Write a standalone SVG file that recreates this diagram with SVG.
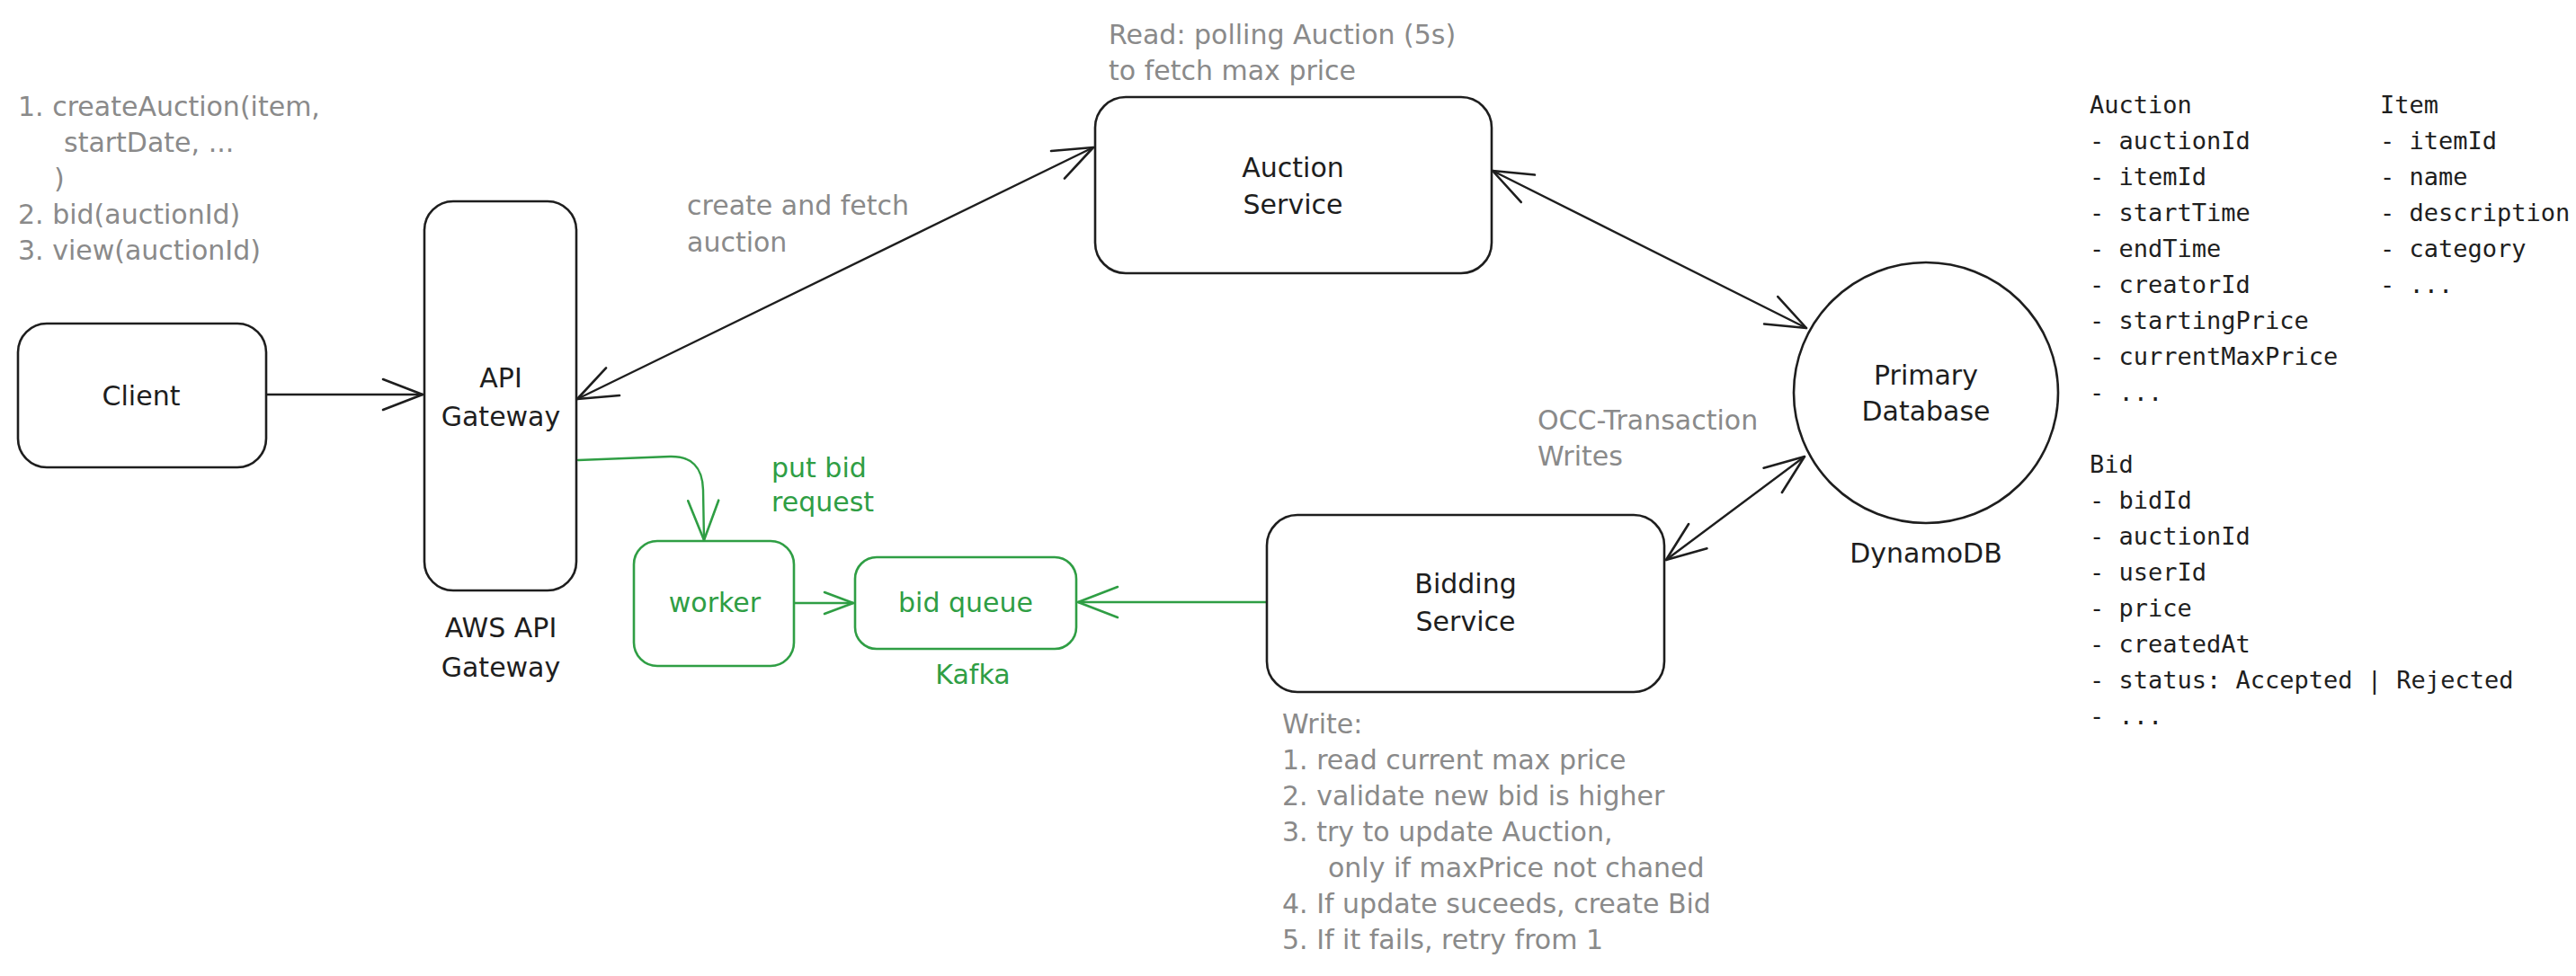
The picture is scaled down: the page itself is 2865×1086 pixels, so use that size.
<svg xmlns="http://www.w3.org/2000/svg" width="2865" height="1086" viewBox="0 0 2865 1086">
<style>
.box{fill:#fff;stroke:#1e1e1e;stroke-width:2.6}
.gbox{fill:#fff;stroke:#2f9e44;stroke-width:2.6}
.lbl{font-family:"DejaVu Sans",sans-serif;font-size:30px;fill:#1e1e1e;text-anchor:middle}
.glbl{font-family:"DejaVu Sans",sans-serif;font-size:30px;fill:#2f9e44;text-anchor:middle}
.gtxt{font-family:"DejaVu Sans",sans-serif;font-size:30px;fill:#2f9e44}
.note{font-family:"DejaVu Sans",sans-serif;font-size:30px;fill:#8a8a8a}
.mono{font-family:"DejaVu Sans Mono","Liberation Mono",monospace;font-size:27px;fill:#1e1e1e}
.con{fill:none;stroke:#1e1e1e;stroke-width:2.4;stroke-linecap:round}
.gcon{fill:none;stroke:#2f9e44;stroke-width:2.4;stroke-linecap:round}
</style>
<defs>
<marker id="ah" viewBox="0 0 48 38" refX="46" refY="19" markerWidth="48" markerHeight="38" markerUnits="userSpaceOnUse" orient="auto-start-reverse">
<path d="M2,2 L46,19 L2,36" fill="none" stroke="#1e1e1e" stroke-width="2.6" stroke-linecap="round" stroke-linejoin="round"/>
</marker>
<marker id="gah" viewBox="0 0 48 38" refX="46" refY="19" markerWidth="48" markerHeight="38" markerUnits="userSpaceOnUse" orient="auto-start-reverse">
<path d="M2,2 L46,19 L2,36" fill="none" stroke="#2f9e44" stroke-width="2.6" stroke-linecap="round" stroke-linejoin="round"/>
</marker>
<marker id="gahs" viewBox="0 0 36 28" refX="34" refY="14" markerWidth="36" markerHeight="28" markerUnits="userSpaceOnUse" orient="auto">
<path d="M2,2 L34,14 L2,26" fill="none" stroke="#2f9e44" stroke-width="2.6" stroke-linecap="round" stroke-linejoin="round"/>
</marker>
</defs>
<rect width="2865" height="1086" fill="#fff"/>

<g id="connectors">
<path class="con" d="M296,439 L470,439" marker-end="url(#ah)"/>
<path class="con" d="M642,444 L1216,164" marker-start="url(#ah)" marker-end="url(#ah)"/>
<path class="con" d="M1660,190 L2009,365" marker-start="url(#ah)" marker-end="url(#ah)"/>
<path class="con" d="M1853,623 L2007,508" marker-start="url(#ah)" marker-end="url(#ah)"/>
<path class="gcon" d="M643,512 L745,508 Q781,507 782,545 L783,601" marker-end="url(#gah)"/>
<path class="gcon" d="M884,671 L949,671" marker-end="url(#gahs)"/>
<path class="gcon" d="M1409,670 L1199,670" marker-end="url(#gah)"/>
</g>

<g id="client">
<rect class="box" x="20" y="360" width="276" height="160" rx="32"/>
<text class="lbl" x="157" y="451">Client</text>
</g>

<g id="api-gateway">
<rect class="box" x="472" y="224" width="169" height="433" rx="32"/>
<text class="lbl" x="557" y="431">API</text>
<text class="lbl" x="557" y="474">Gateway</text>
<text class="lbl" x="557" y="709">AWS API</text>
<text class="lbl" x="557" y="753">Gateway</text>
</g>

<g id="auction-service">
<rect class="box" x="1218" y="108" width="441" height="196" rx="34"/>
<text class="lbl" x="1438" y="197">Auction</text>
<text class="lbl" x="1438" y="238">Service</text>
</g>

<g id="primary-database">
<ellipse class="box" cx="2142" cy="437" rx="147" ry="145"/>
<text class="lbl" x="2142" y="428">Primary</text>
<text class="lbl" x="2142" y="468">Database</text>
<text class="lbl" x="2142" y="626">DynamoDB</text>
</g>

<g id="bidding-service">
<rect class="box" x="1409" y="573" width="442" height="197" rx="34"/>
<text class="lbl" x="1630" y="660">Bidding</text>
<text class="lbl" x="1630" y="702">Service</text>
</g>

<g id="worker">
<rect class="gbox" x="705" y="602" width="178" height="139" rx="26"/>
<text class="glbl" x="795" y="681">worker</text>
</g>

<g id="bid-queue">
<rect class="gbox" x="951" y="620" width="246" height="102" rx="24"/>
<text class="glbl" x="1074" y="681">bid queue</text>
<text class="glbl" x="1082" y="761">Kafka</text>
</g>

<g id="labels">
<text class="gtxt" x="858" y="531">put bid</text>
<text class="gtxt" x="858" y="569">request</text>
<text class="note" x="764" y="239">create and fetch</text>
<text class="note" x="764" y="280">auction</text>
<text class="note" x="1233" y="49">Read: polling Auction (5s)</text>
<text class="note" x="1233" y="89">to fetch max price</text>
<text class="note" x="1710" y="478">OCC-Transaction</text>
<text class="note" x="1710" y="518">Writes</text>
</g>

<g id="api-list">
<text class="note" x="20" y="129">1. createAuction(item,</text>
<text class="note" x="71" y="169">startDate, ...</text>
<text class="note" x="60" y="209">)</text>
<text class="note" x="20" y="249">2. bid(auctionId)</text>
<text class="note" x="20" y="289">3. view(auctionId)</text>
</g>

<g id="write-list">
<text class="note" x="1426" y="816">Write:</text>
<text class="note" x="1426" y="856">1. read current max price</text>
<text class="note" x="1426" y="896">2. validate new bid is higher</text>
<text class="note" x="1426" y="936">3. try to update Auction,</text>
<text class="note" x="1477" y="976">only if maxPrice not chaned</text>
<text class="note" x="1426" y="1016">4. If update suceeds, create Bid</text>
<text class="note" x="1426" y="1056">5. If it fails, retry from 1</text>
</g>

<g id="schema">
<text class="mono" x="2324" y="126">Auction</text>
<text class="mono" x="2324" y="166">- auctionId</text>
<text class="mono" x="2324" y="206">- itemId</text>
<text class="mono" x="2324" y="246">- startTime</text>
<text class="mono" x="2324" y="286">- endTime</text>
<text class="mono" x="2324" y="326">- creatorId</text>
<text class="mono" x="2324" y="366">- startingPrice</text>
<text class="mono" x="2324" y="406">- currentMaxPrice</text>
<text class="mono" x="2324" y="446">- ...</text>
<text class="mono" x="2647" y="126">Item</text>
<text class="mono" x="2647" y="166">- itemId</text>
<text class="mono" x="2647" y="206">- name</text>
<text class="mono" x="2647" y="246">- description</text>
<text class="mono" x="2647" y="286">- category</text>
<text class="mono" x="2647" y="326">- ...</text>
<text class="mono" x="2324" y="526">Bid</text>
<text class="mono" x="2324" y="566">- bidId</text>
<text class="mono" x="2324" y="606">- auctionId</text>
<text class="mono" x="2324" y="646">- userId</text>
<text class="mono" x="2324" y="686">- price</text>
<text class="mono" x="2324" y="726">- createdAt</text>
<text class="mono" x="2324" y="766">- status: Accepted | Rejected</text>
<text class="mono" x="2324" y="806">- ...</text>
</g>
</svg>
